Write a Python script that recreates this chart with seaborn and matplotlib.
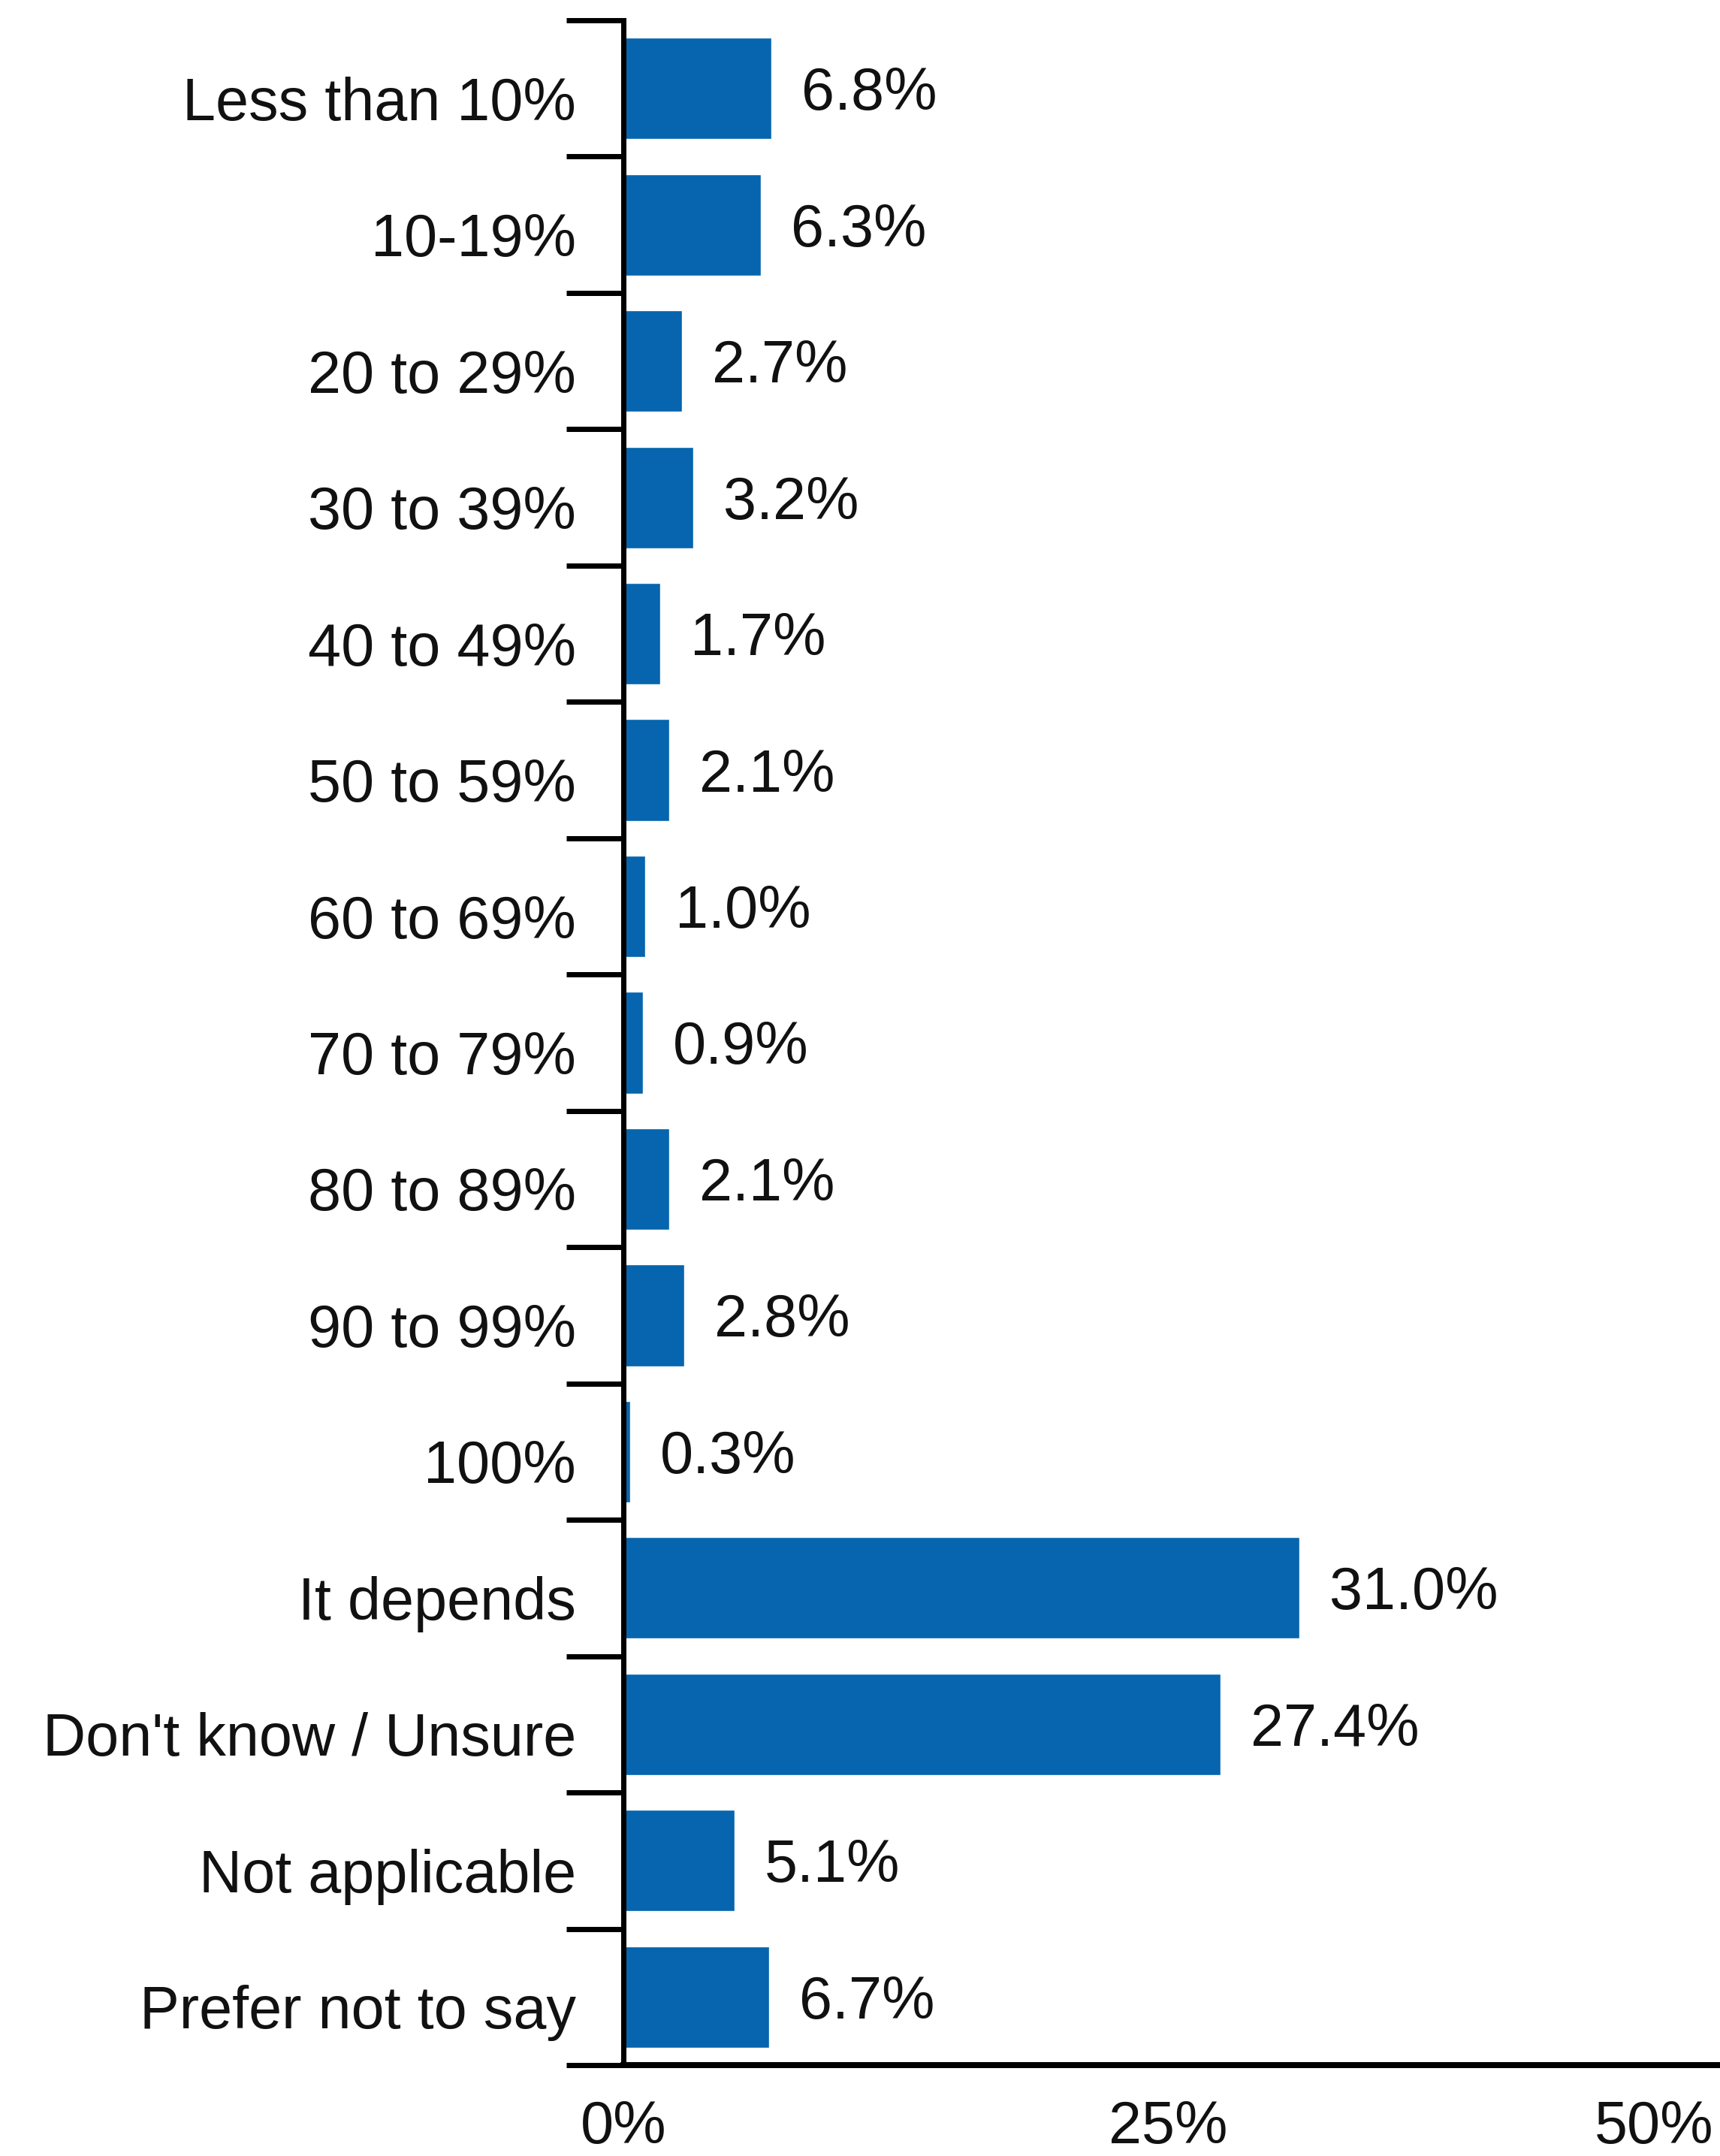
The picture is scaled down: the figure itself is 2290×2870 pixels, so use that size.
import numpy as np
import matplotlib
matplotlib.use("Agg")
import matplotlib.pyplot as plt
from matplotlib.transforms import ScaledTranslation
import seaborn as sns
import pandas as pd

categories = ["Less than 10%", "10-19%", "20 to 29%", "30 to 39%", "40 to 49%",
              "50 to 59%", "60 to 69%", "70 to 79%", "80 to 89%", "90 to 99%",
              "100%", "It depends", "Don't know / Unsure", "Not applicable",
              "Prefer not to say"]
values = [6.8, 6.3, 2.7, 3.2, 1.7, 2.1, 1.0, 0.9, 2.1, 2.8, 0.3, 31.0, 27.4, 5.1, 6.7]
xticks = [0, 25, 50]
xticklabels = ["0%", "25%", "50%"]

BAR_COLOR = "#0665AE"

sns.set_style("white")
plt.rcParams["font.family"] = ["Liberation Sans", "DejaVu Sans"]

DPI = 100
W, H = 2290, 2870
fig = plt.figure(figsize=(W / DPI, H / DPI), dpi=DPI)
px = 72 / DPI  # points per pixel

left, right = 830 / W, 1.0
top, bottom = 1 - 27 / H, 1 - 2749 / H
ax = fig.add_axes([left, bottom, right - left, top - bottom])

df = pd.DataFrame({"category": categories, "value": values})
sns.barplot(data=df, x="value", y="category", orient="h", color=BAR_COLOR,
            saturation=1, width=0.745, ax=ax)

ax.set_xlim(0, 50.3)
ax.set_ylim(len(categories) - 0.5, -0.5)

for c in ax.containers:
    texts = ax.bar_label(c, labels=[f"{v:.1f}%" for v in values], padding=40 * px,
                         fontsize=57, color="#111111")
    for t in texts:
        t.xyann = (40 * px, -8 * px)

ax.set_xlabel("")
ax.set_ylabel("")

# y ticks: labels centered on bars, tick marks at category boundaries
ax.set_yticks(range(len(categories)))
ax.set_yticklabels(categories, fontsize=57, color="#111111")
ax.set_yticks(np.arange(-0.5, len(categories), 1.0), minor=True)
ax.tick_params(axis="y", which="major", length=0, pad=63 * px)
ax.tick_params(axis="y", which="minor", length=76 * px, width=7 * px,
               color="black", direction="out", left=True)

ax.set_xticks(xticks)
ax.set_xticklabels(xticklabels, fontsize=57, color="#111111")
ax.tick_params(axis="x", which="both", length=0, pad=46 * px)
ax.get_xticklabels()[-1].set_ha("right")

down_tick = ScaledTranslation(0, -13 / DPI, fig.dpi_scale_trans)
for lab in ax.get_yticklabels():
    lab.set_transform(lab.get_transform() + down_tick)

for s in ["top", "right"]:
    ax.spines[s].set_visible(False)
ax.spines["left"].set_linewidth(7 * px)
ax.spines["left"].set_color("black")
ax.spines["bottom"].set_linewidth(8 * px)
ax.spines["bottom"].set_color("black")
ax.spines["left"].set_zorder(5)
ax.grid(False)

fig.savefig("out.png", dpi=DPI, facecolor="white")
